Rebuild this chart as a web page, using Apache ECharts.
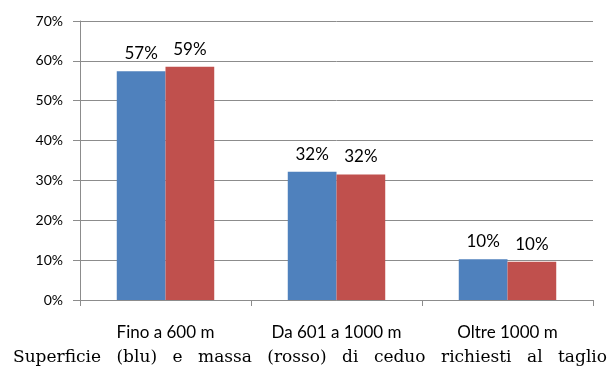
<!DOCTYPE html>
<html>
<head>
<meta charset="utf-8">
<script src="https://cdn.jsdelivr.net/npm/echarts@6/dist/echarts.min.js"></script>
<style>
  html, body { margin: 0; padding: 0; background: #fff; }
  #chart { width: 611px; height: 371px; }
</style>
</head>
<body>
<div id="chart"></div>
<script>
// Quote altimetriche e percentuali di ceduo richiesto al taglio
const categories = ['Fino a 600 m', 'Da 601 a 1000 m', 'Oltre 1000 m'];
const superficie = [57.4, 32.2, 10.2];   // blu
const massa = [58.5, 31.5, 9.6];         // rosso
const yTicks = { min: 0, max: 70, step: 10 };
const caption = 'Superficie (blu) e massa (rosso) di ceduo richiesti al taglio';

const BLUE = '#4F81BD';
const RED = '#C0504D';
const GRID = '#8C8C8C';
const LABEL_FONT = 'Lato, "Open Sans", sans-serif';
const CAPTION_FONT = '17px "DejaVu Serif", serif';

const chart = echarts.init(document.getElementById('chart'), null, { renderer: 'canvas' });

// Justified caption line: words spread evenly between the two margins
function captionGraphics(left, right, centerY) {
  const words = caption.split(' ');
  const ctx = document.createElement('canvas').getContext('2d');
  ctx.font = CAPTION_FONT;
  const widths = words.map(w => ctx.measureText(w).width);
  const total = widths.reduce((a, b) => a + b, 0);
  const gap = (right - left - total) / (words.length - 1);
  let x = left;
  return words.map((w, i) => {
    const el = {
      type: 'text',
      x: x,
      y: centerY,
      style: {
        text: w,
        font: CAPTION_FONT,
        fill: '#000',
        align: 'left',
        verticalAlign: 'middle'
      }
    };
    x += widths[i] + gap;
    return el;
  });
}

const pctLabel = {
  show: true,
  position: 'top',
  distance: 9,
  color: '#000',
  fontFamily: LABEL_FONT,
  fontSize: 17,
  formatter: p => Math.round(p.value) + '%'
};

chart.setOption({
  animation: false,
  backgroundColor: '#fff',
  grid: { left: 80, right: 18, top: 21, bottom: 71, containLabel: false },
  xAxis: {
    type: 'category',
    data: categories,
    axisLine: { lineStyle: { color: GRID, width: 1 } },
    axisTick: { show: true, alignWithLabel: false, length: 6, lineStyle: { color: GRID } },
    axisLabel: { color: '#000', fontFamily: LABEL_FONT, fontSize: 17, margin: 24 }
  },
  yAxis: {
    type: 'value',
    min: yTicks.min,
    max: yTicks.max,
    interval: yTicks.step,
    axisLine: { show: true, lineStyle: { color: GRID, width: 1 } },
    axisTick: { show: true, length: 7, lineStyle: { color: GRID } },
    splitLine: { show: true, lineStyle: { color: GRID, width: 1 } },
    axisLabel: { color: '#000', fontFamily: LABEL_FONT, fontSize: 14, margin: 17, formatter: '{value}%' }
  },
  series: [
    {
      name: 'Superficie',
      type: 'bar',
      data: superficie,
      barGap: '0%',
      barCategoryGap: '43%',
      itemStyle: { color: BLUE },
      label: pctLabel
    },
    {
      name: 'Massa',
      type: 'bar',
      data: massa,
      itemStyle: { color: RED },
      label: pctLabel
    }
  ],
  graphic: captionGraphics(13, 607, 358)
});
</script>
</body>
</html>
